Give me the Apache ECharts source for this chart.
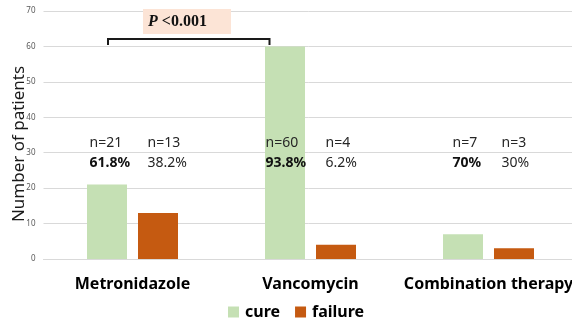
<!DOCTYPE html>
<html>
<head>
<meta charset="utf-8">
<script src="https://cdn.jsdelivr.net/npm/echarts@6/dist/echarts.min.js"></script>
<style>
  html, body { margin: 0; padding: 0; background: #fff; }
  #chart { width: 572px; height: 324px; }
</style>
</head>
<body>
<div id="chart"></div>
<script>
// Treatment outcome by regimen
const categories = ['Metronidazole', 'Vancomycin', 'Combination therapy'];
const cure = [21, 60, 7];
const failure = [13, 4, 3];
const cureShare = ['61.8%', '93.8%', '70%'];
const failureShare = ['38.2%', '6.2%', '30%'];
const yTicks = [0, 10, 20, 30, 40, 50, 60, 70];

const CURE_COLOR = '#C5E0B4';
const FAIL_COLOR = '#C55A11';
const TEXT_COLOR = '#262626';

// horizontal placement of the count/share text blocks, px from category centre
const cureTextShift = [-43, -45, -36];
const failTextShift = [15, 15, 13];

const chart = echarts.init(document.getElementById('chart'));

chart.setOption({
  animation: false,
  grid: { left: 43.5, top: 11, width: 534, height: 248, containLabel: false, outerBoundsMode: 'none' },
  legend: {
    data: ['cure', 'failure'],
    left: 228,
    top: 304,
    padding: 0,
    itemWidth: 11,
    itemHeight: 11,
    itemGap: 15,
    icon: 'rect',
    textStyle: { fontFamily: 'Noto Sans', fontSize: 16, fontWeight: 'bold', color: '#000', padding: [0, 0, 0, 1] }
  },
  xAxis: {
    type: 'category',
    data: categories,
    axisLine: { lineStyle: { color: '#D9D9D9' } },
    axisTick: { show: false },
    axisLabel: {
      interval: 0,
      margin: 17,
      fontFamily: 'Noto Sans',
      fontSize: 16,
      fontWeight: 'bold',
      color: '#000'
    }
  },
  yAxis: {
    type: 'value',
    min: yTicks[0],
    max: yTicks[yTicks.length - 1],
    interval: 10,
    name: 'Number of patients',
    nameLocation: 'middle',
    nameGap: 16,
    nameMoveOverlap: false,
    nameTextStyle: { fontFamily: 'Noto Sans', fontSize: 17, color: '#1a1a1a', padding: [0, 18, 0, 0] },
    axisLine: { show: false },
    axisTick: { show: false },
    splitLine: { lineStyle: { color: '#D9D9D9' } },
    axisLabel: { fontFamily: 'Noto Sans', fontSize: 8, color: '#595959', margin: 8 }
  },
  series: [
    {
      name: 'cure',
      type: 'bar',
      data: cure,
      barWidth: 40,
      barGap: '27.5%',
      itemStyle: { color: CURE_COLOR }
    },
    {
      name: 'failure',
      type: 'bar',
      data: failure,
      barWidth: 40,
      itemStyle: { color: FAIL_COLOR }
    },
    {
      // "n=.." and share text above each pair of bars
      type: 'custom',
      data: categories.map((c, i) => [i]),
      silent: true,
      z: 5,
      renderItem: function (params, api) {
        const i = api.value(0);
        const top = api.coord([i, 32.7]);
        const low = api.coord([i, 27.1]);
        const base = { fontFamily: 'Noto Sans', fontSize: 14, fill: TEXT_COLOR, verticalAlign: 'middle', align: 'left' };
        return {
          type: 'group',
          children: [
            { type: 'text', x: top[0] + cureTextShift[i], y: top[1], style: Object.assign({}, base, { text: 'n=' + cure[i] }) },
            { type: 'text', x: low[0] + cureTextShift[i], y: low[1], style: Object.assign({}, base, { text: cureShare[i], fontWeight: 'bold', fill: '#111' }) },
            { type: 'text', x: top[0] + failTextShift[i], y: top[1], style: Object.assign({}, base, { text: 'n=' + failure[i] }) },
            { type: 'text', x: low[0] + failTextShift[i], y: low[1], style: Object.assign({}, base, { text: failureShare[i] }) }
          ]
        };
      }
    }
  ]
});

// significance bracket between the first two regimens
const bracketTop = chart.convertToPixel({ xAxisIndex: 0, yAxisIndex: 0 }, [0, 62.1]);
const bracketEnd = chart.convertToPixel({ xAxisIndex: 0, yAxisIndex: 0 }, [1, 60.4]);
const x1 = bracketTop[0] - 24.5;
const x2 = bracketEnd[0] - 41;
const yT = bracketTop[1];
const yB = bracketEnd[1];

chart.setOption({
  graphic: [
    {
      type: 'polyline',
      shape: { points: [[x1, yB], [x1, yT], [x2, yT], [x2, yB]] },
      style: { stroke: '#1a1a1a', lineWidth: 2, fill: null },
      z: 10
    },
    {
      type: 'rect',
      shape: { x: 143, y: 9, width: 88, height: 25 },
      style: { fill: '#FCE4D6' },
      z: 10
    },
    {
      type: 'text',
      x: 148,
      y: 22,
      style: {
        text: '{i|P} {b|<0.001}',
        verticalAlign: 'middle',
        rich: {
          i: { fontFamily: 'Liberation Serif', fontSize: 16, fontWeight: 'bold', fontStyle: 'italic', fill: '#111' },
          b: { fontFamily: 'Liberation Serif', fontSize: 16, fontWeight: 'bold', fill: '#111' }
        },
        fontFamily: 'Liberation Serif',
        fontSize: 16,
        fontWeight: 'bold',
        fill: '#111'
      },
      z: 11
    }
  ]
});
</script>
</body>
</html>
